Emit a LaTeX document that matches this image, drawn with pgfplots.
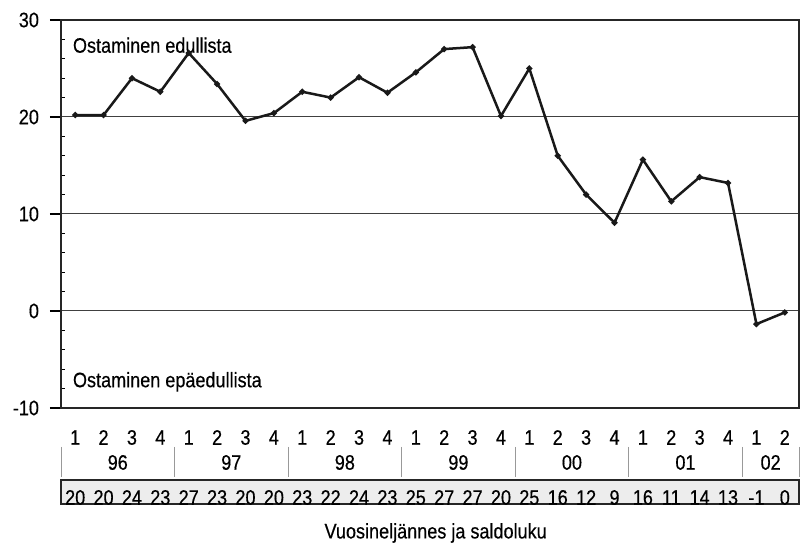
\documentclass[border=0pt]{standalone}
\usepackage{fontspec}
\setmainfont{Liberation Sans}[FakeStretch=0.86, FakeBold=0.4]
\usepackage{pgfplots}
\pgfplotsset{compat=1.18}
\begin{document}
\begin{tikzpicture}[font=\fontsize{10.5}{12}\selectfont]
\begin{axis}[name=ax, set layers, scale only axis, width=369pt, height=194pt,
  xmin=-0.5, xmax=25.5, ymin=-10, ymax=30,
  ytick={-10,0,10,20,30}, yticklabels={-10,0,10,20,30},
  minor y tick num=4,
  ymajorgrids, grid style={line width=0.5pt, color=black!75},
  axis line style={line width=0.7pt, color=black!85},
  ytick pos=left, tick align=outside, major tick length=5.5pt, minor tick length=2pt,
  minor tick style={xshift=2pt, black, line width=0.5pt},
  y tick style={black, line width=0.6pt},
  yticklabel style={xshift=-2pt},
  xtick={0,...,25},
  xticklabels={1,2,3,4,1,2,3,4,1,2,3,4,1,2,3,4,1,2,3,4,1,2,3,4,1,2},
  x tick style={draw=none},
  xticklabel style={anchor=center, yshift=-9.25pt},
  extra x ticks={0,...,25},
  extra x tick labels={20,20,24,23,27,23,20,20,23,22,24,23,25,27,27,20,25,16,12,9,16,11,14,13,-1,0},
  extra x tick style={xticklabel style={anchor=center, yshift=-30pt}, draw=none},
  clip=false,
]
\addplot[black!90, line width=1.25pt, mark=*, mark size=0.8pt] coordinates {
(0,20.2) (1,20.2) (2,24.0) (3,22.6) (4,26.6) (5,23.4) (6,19.6) (7,20.4)
(8,22.6) (9,22.0) (10,24.1) (11,22.5) (12,24.6) (13,27.0) (14,27.2) (15,20.1)
(16,25.0) (17,16.0) (18,12.0) (19,9.1) (20,15.6) (21,11.3) (22,13.8) (23,13.2)
(24,-1.35) (25,-0.15)};
\node[anchor=west, inner sep=0pt] at ([xshift=5.8pt]axis cs:-0.5,27.4) {Ostaminen edullista};
\node[anchor=west, inner sep=0pt] at ([xshift=5.8pt]axis cs:-0.5,-7.3) {Ostaminen epäedullista};
\begin{pgfonlayer}{axis background}
\draw[draw=black!85, fill=gray!14, line width=0.6pt] ([yshift=-36pt]axis cs:-0.5,-10) rectangle ([yshift=-48pt]axis cs:25.5,-10);
\end{pgfonlayer}
\foreach \xx in {-0.5,3.5,7.5,11.5,15.5,19.5,23.5,25.5}{
  \edef\temp{\noexpand\draw[black!40, line width=0.5pt] ([yshift=-19.5pt]axis cs:\xx,-10) -- ([yshift=-34.5pt]axis cs:\xx,-10);}
  \temp
}
\node at ([yshift=-27.25pt]axis cs:1.5,-10) {96};
\node at ([yshift=-27.25pt]axis cs:5.5,-10) {97};
\node at ([yshift=-27.25pt]axis cs:9.5,-10) {98};
\node at ([yshift=-27.25pt]axis cs:13.5,-10) {99};
\node at ([yshift=-27.25pt]axis cs:17.5,-10) {00};
\node at ([yshift=-27.25pt]axis cs:21.5,-10) {01};
\node at ([yshift=-27.25pt]axis cs:24.5,-10) {02};
\node at ([yshift=-62.5pt]axis cs:12.7,-10) {Vuosineljännes ja saldoluku};
\end{axis}
\pgfresetboundingbox
\path ([xshift=-30.5pt,yshift=-69pt]ax.south west) rectangle ([xshift=0.5pt,yshift=10pt]ax.north east);
\end{tikzpicture}
\end{document}
